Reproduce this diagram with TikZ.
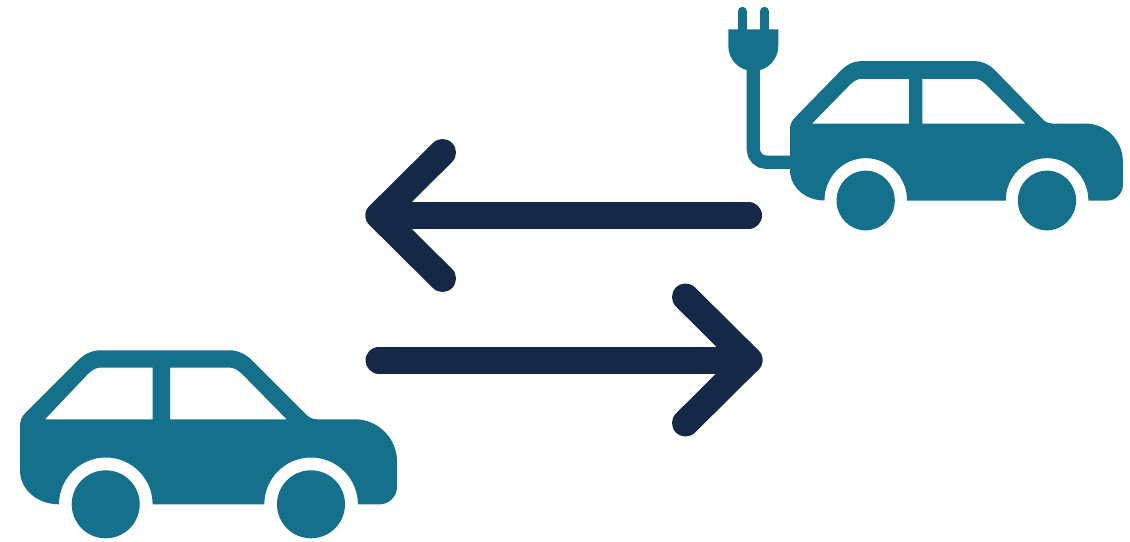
\documentclass[tikz,border=0pt]{standalone}
\usepackage{xcolor}
\usetikzlibrary{positioning}
\definecolor{carteal}{HTML}{14708B}
\definecolor{arrownavy}{HTML}{152847}
\newcommand{\windowtop}{-136.7}
\newcommand{\pillarleft}{132.7}
\newcommand{\wheelrad}{34}

\begin{document}
\begin{tikzpicture}[
    x=1pt, y=-1pt,
    carbody/.style={fill=carteal, even odd rule},
    wheel/.style={fill=carteal},
    cable/.style={draw=carteal, line width=13.3pt, rounded corners=13pt},
    pin/.style={draw=carteal, line width=9pt, line cap=round},
    plughead/.style={fill=carteal},
    flow/.style={draw=arrownavy, line width=27pt, line cap=round, line join=round},
    car/.pic={
        \fill[carbody]
            (0,-34) .. controls (0,-15) and (17,0) .. (39,0)
            arc[start angle=180, end angle=360, radius=46.8]
            -- (244.3,0)
            arc[start angle=180, end angle=360, radius=46.8]
            -- (360,0) .. controls (369,0) and (377,-8) .. (377,-17)
            -- (377,-43) .. controls (377,-66) and (358,-85) .. (335,-85)
            -- (297,-85) .. controls (293,-85) and (289,-87) .. (287,-89)
            -- (232,-144) .. controls (226,-150) and (218,-154) .. (210,-154)
            -- (80,-154) .. controls (72,-154) and (64,-150) .. (58,-144)
            -- (6,-92) .. controls (2,-88) and (0,-84) .. (0,-79) -- cycle
            % windows
            (25,-85) -- (68.3,\windowtop+6) .. controls (72,\windowtop+2.7) and (76,\windowtop) .. (80,\windowtop)
            -- (\pillarleft,\windowtop) -- (\pillarleft,-85) -- cycle
            (150,\windowtop) -- (210,\windowtop) .. controls (214,\windowtop) and (218,\windowtop+2.7) .. (221.7,\windowtop+6)
            -- (266.7,-85) -- (150,-85) -- cycle;
        \fill[wheel] (85.7,0) circle[radius=\wheelrad];
        \fill[wheel] (291,0) circle[radius=\wheelrad];
    },
]
\useasboundingbox (0,0) rectangle (1130,541);

% ---------- cars ----------
\pic at (20,504.3) {car};
\renewcommand{\windowtop}{-134.3}
\renewcommand{\pillarleft}{134.8}
\renewcommand{\wheelrad}{33}
\pic[xscale=0.883, yscale=0.905] at (790,200.5) {car};

% ---------- plug and cable ----------
\coordinate (plugbase) at (753.3,60);
\coordinate (evport) at (792,162.3);
\draw[cable] (plugbase) -- (plugbase |- evport) -- (evport);
\fill[plughead] (728.3,29.3) -- (778.3,29.3) -- (778.3,46)
    arc[start angle=0, end angle=180, radius=25] -- cycle;
\draw[pin] (742,11.3) -- (742,32);
\draw[pin] (764.5,11.3) -- (764.5,32);

% ---------- arrows ----------
\coordinate (toptail) at (748.5,215.5);
\coordinate (toptip) at (379,215.5);
\draw[flow] (toptail) -- (toptip);
\draw[flow] (442.5,152.5) -- (toptip) -- (442.5,278.5);

\coordinate (bottail) at (379,360);
\coordinate (bottip) at (749,360);
\draw[flow] (bottail) -- (bottip);
\draw[flow] (685.5,297) -- (bottip) -- (685.5,423);

\end{tikzpicture}
\end{document}
